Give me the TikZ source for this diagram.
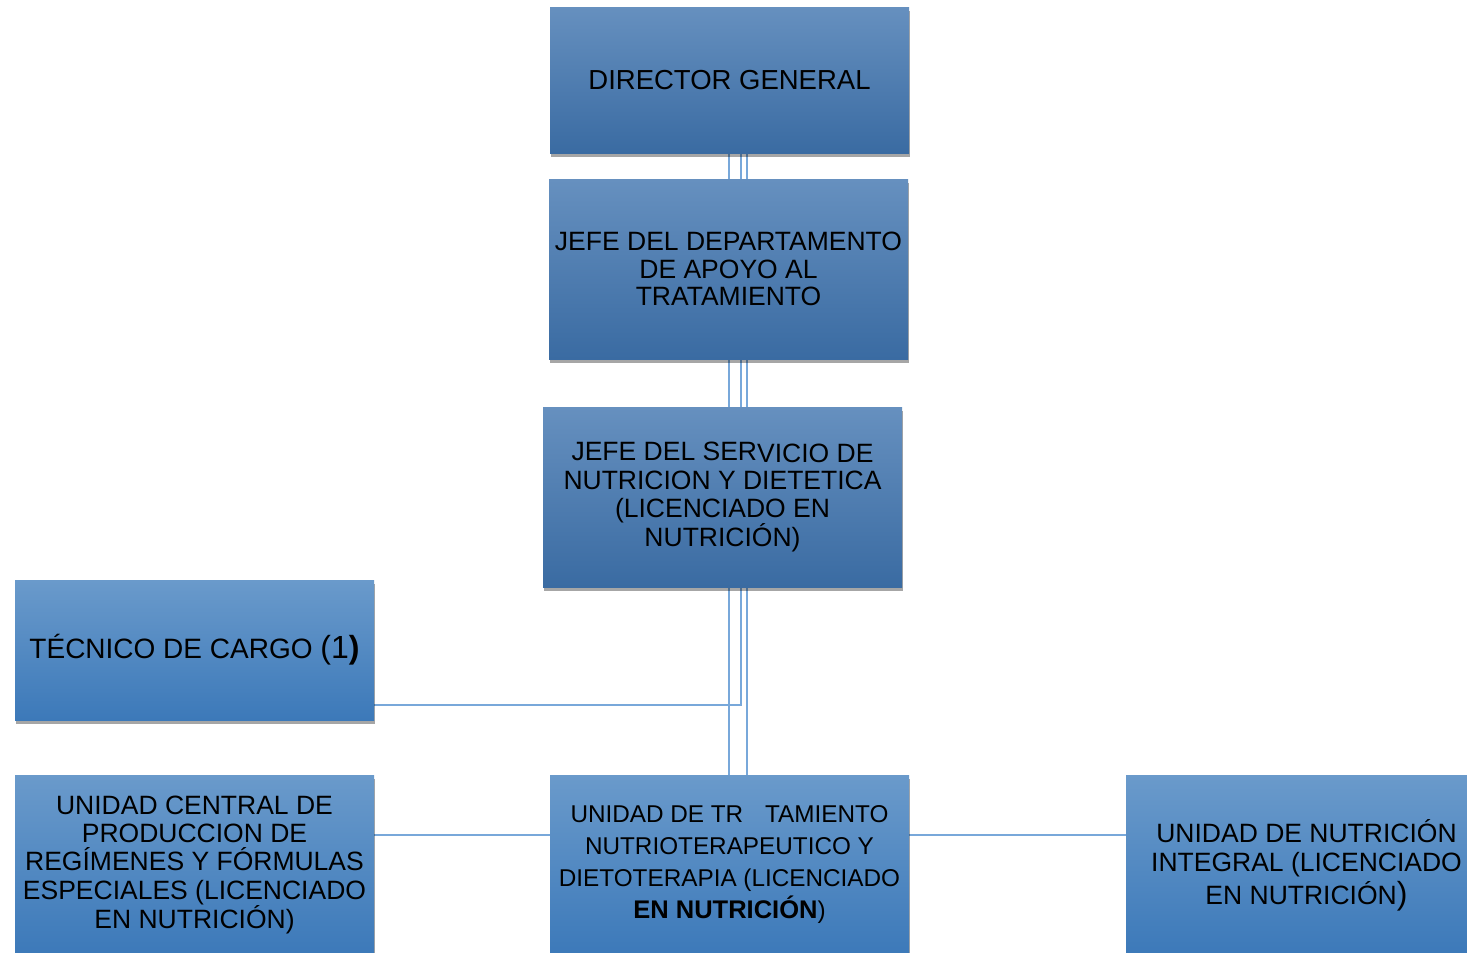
\documentclass[tikz,border=0pt]{standalone}
\usepackage{fontspec}
\setmainfont{Liberation Sans}
\usetikzlibrary{shadows}
\definecolor{topA}{HTML}{6690BF}
\definecolor{botA}{HTML}{3A6BA2}
\definecolor{topB}{HTML}{6A9ACB}
\definecolor{botB}{HTML}{3C79B9}
\definecolor{linkc}{HTML}{78A8DA}
\tikzset{
  boxA/.style={rectangle, inner sep=0pt, minimum width=359pt, top color=topA, bottom color=botA,
    drop shadow={shadow xshift=0.5pt, shadow yshift=-4pt, opacity=0.35, fill=black}, align=center, text=black},
  boxB/.style={rectangle, inner sep=0pt, minimum width=359pt, top color=topB, bottom color=botB,
    drop shadow={shadow xshift=0.5pt, shadow yshift=-4pt, opacity=0.35, fill=black}, align=center, text=black},
  link/.style={draw=linkc, line width=2.8pt},
}
\begin{document}
\begin{tikzpicture}[x=1pt,y=-1pt]
\useasboundingbox[fill=white] (0,0) rectangle (1467,953);
% connectors first (boxes drawn later on top)
\coordinate (a1) at (729,150);
\coordinate (a2) at (741,150);
\coordinate (a3) at (747,150);
\coordinate (b1) at (729,185);
\coordinate (b2) at (741,185);
\coordinate (b3) at (747,185);
\coordinate (c1) at (729,355);
\coordinate (c2) at (741,355);
\coordinate (c3) at (747,355);
\coordinate (d1) at (729,412);
\coordinate (d2) at (741,412);
\coordinate (d3) at (747,412);
\coordinate (e1) at (729,583);
\coordinate (e2) at (741,583);
\coordinate (e3) at (747,583);
\coordinate (f1) at (729,780);
\coordinate (f3) at (747,780);
\coordinate (corner) at (741,705);
\coordinate (tec) at (370,705);
\draw[link] (a1) -- (b1);
\draw[link] (a2) -- (b2);
\draw[link] (a3) -- (b3);
\draw[link] (c1) -- (d1);
\draw[link] (c2) -- (d2);
\draw[link] (c3) -- (d3);
\draw[link] (e1) -- (f1);
\draw[link] (e3) -- (f3);
\draw[link] (e2) -- (corner) -- (tec);
\coordinate (l1) at (370,835);
\coordinate (l2) at (555,835);
\coordinate (r1) at (905,835);
\coordinate (r2) at (1130,835);
\draw[link, line width=2.4pt] (l1) -- (l2);
\draw[link, line width=2.4pt] (r1) -- (r2);
% boxes
\node[boxA, minimum height=146pt, font=\fontsize{27.5}{29}\selectfont] (dir) at (729.5,80)
  {DIRECTOR GENERAL};
\node[boxA, minimum height=180pt, font=\fontsize{26.5}{27.5}\selectfont] (jdep) at (728.5,269)
  {JEFE DEL DEPARTAMENTO\\ DE APOYO AL\\ TRATAMIENTO};
\node[boxA, minimum height=180pt, font=\fontsize{26.5}{28.5}\selectfont] (jser) at (722.5,497)
  {JEFE DEL SER\raisebox{-2pt}{VICIO DE}\\ NUTRICION Y DIETETICA\\ (LICENCIADO EN\\ NUTRICIÓN)};
\node[boxB, minimum height=140pt, font=\fontsize{28}{29}\selectfont] (tecn) at (194.5,650)
  {TÉCNICO DE CARGO {\fontsize{32}{32}\selectfont(1\textbf{)}}};
\node[boxB, minimum height=180pt, font=\fontsize{26.5}{28.2}\selectfont] (ucen) at (194.5,865)
  {UNIDAD CENTRAL DE\\ PRODUCCION DE\\ REGÍMENES Y FÓRMULAS\\ ESPECIALES (LICENCIADO\\ EN NUTRICIÓN)};
\node[boxB, minimum height=180pt, font=\fontsize{24.3}{32}\selectfont] (utra) at (729.5,865)
  {UNIDAD DE TR\kern0.9em TAMIENTO\\ NUTRIOTERAPEUTICO Y\\ DIETOTERAPIA (LICENCIADO\\ {\fontsize{25.5}{32}\selectfont\textbf{EN NUTRICIÓN}})};
\node[boxB, minimum height=180pt, minimum width=361pt, font=\fontsize{26.5}{29}\selectfont] (unut) at (1306.5,865)
  {UNIDAD DE NUTRICIÓN\\ INTEGRAL (LICENCIADO\\[4pt] EN NUTRICIÓN{\fontsize{32}{32}\selectfont)}};
\end{tikzpicture}
\end{document}
